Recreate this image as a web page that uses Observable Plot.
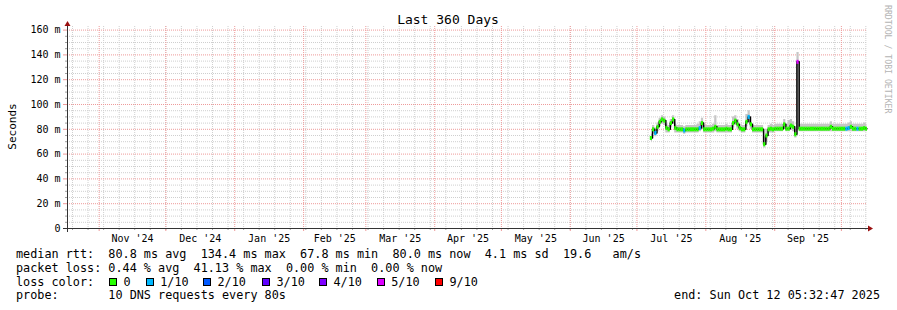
<!DOCTYPE html>
<html><head><meta charset="utf-8">
<script src="https://cdn.jsdelivr.net/npm/d3@7"></script>
<script src="https://cdn.jsdelivr.net/npm/@observablehq/plot@0.6"></script>
<style>
html,body{margin:0;padding:0;background:#fff;}
svg text{font-family:"DejaVu Sans Mono",monospace;}
</style></head><body><div id="chart"></div>
<script>
// ---------- texts ----------
const title = "Last 360 Days";
const yAxisLabel = "Seconds";
const watermark = "RRDTOOL / TOBI OETIKER";
const legendLine1 = "median rtt:  80.8 ms avg  134.4 ms max  67.8 ms min  80.0 ms now  4.1 ms sd  19.6   am/s";
const legendLine2 = "packet loss: 0.44 % avg  41.13 % max  0.00 % min  0.00 % now";
const legendLine3 = "loss color:";
const legendLine4 = "probe:       10 DNS requests every 80s";
const endText = "end: Sun Oct 12 05:32:47 2025";

// ---------- axes ----------
const viewStart = "2024-10-17T18:00:00Z";
const viewEnd = "2025-10-12T18:00:00Z";
const yMax = 162.9;
const yMajorTicks = [0, 20, 40, 60, 80, 100, 120, 140, 160];
const yMajorLabels = ["0", "20 m", "40 m", "60 m", "80 m", "100 m", "120 m", "140 m", "160 m"];
const yMinorTicks = [5,10,15,25,30,35,45,50,55,65,70,75,85,90,95,105,110,115,125,130,135,145,150,155];
const monthStarts = ["2024-11-01","2024-12-01","2025-01-01","2025-02-01","2025-03-01","2025-04-01",
  "2025-05-01","2025-06-01","2025-07-01","2025-08-01","2025-09-01","2025-10-01"];
const monthLabels = ["Nov '24","Dec '24","Jan '25","Feb '25","Mar '25","Apr '25","May '25","Jun '25","Jul '25","Aug '25","Sep '25"];

// ---------- loss colours ----------
const lossLevels = [0, 1, 2, 3, 4, 5, 9];
const lossLabels = ["0", "1/10", "2/10", "3/10", "4/10", "5/10", "9/10"];
const lossColors = ["#26ff00", "#00b8ff", "#0059ff", "#5e00ff", "#7e00ff", "#dd00ff", "#ff0000"];

// ---------- data: one value per day from 2025-07-07 to 2025-10-12 ----------
const firstDay = "2025-07-07";
const medians = [
  // Jul 7-31
  73,80,77,82,86,88,87,81,80,85,88,81,80,80,80,79,80,80,80,80,80,80,81,85,80,
  // Aug 1-31
  80,80,80,80.5,82,80,80,80,80,80.5,80,80,85,87,84,81,80,80,86,90,84,80,80,80,80,80,68,75,80,80.5,80,
  // Sep 1-30
  80.5,80.5,80.5,80.5,84,80.5,80.5,83,82,76,134.4,80.5,80.5,80.5,80.5,80.5,80.5,80.5,80.5,80.5,80.5,80.5,80.5,80.5,80.5,82,80.5,80.5,80.5,80.5,
  // Oct 1-12
  80.5,80.5,80.5,81,82,80.5,80.5,80.5,80.5,80.5,81,80.5
];
const loss = [
  0,0,1,0,0,0,0,0,0,0,0,0,0,0,0,1,0,0,0,0,0,0,1,0,0,
  0,0,0,0,0,0,0,0,0,0,0,0,0,0,0,0,0,0,0,1,0,0,0,0,0,0,0,0,0,0,0,
  0,0,0,0,0,0,0,0,0,0,5,0,0,0,0,0,0,0,0,0,0,0,0,0,0,0,0,0,0,0,
  0,0,1,1,0,0,0,1,0,0,0,0
];
const smokeLo = [
  70,76,74,78,82,84,83,77,77,81,84,77,77,77,77,76,77,77,77,77,77,77,78,80,77,
  77,77,77,77,78,77,77,77,77,77,77,77,81,83,80,78,77,77,82,85,80,77,77,77,77,77,65,70,77,77,77,
  78,78,78,78,80,78,78,79,78,73,79,78,78,78,78,78,78,78,78,78,78,78,78,78,78,78,78,78,78,78,
  78,78,78,78,78,78,78,78,78,78,78,78
];
const smokeHi = [
  76,83,81,85,89,91,90,84,83,88,91,84,83,83,83,82,83,83,83,83,83,84,86,89,83,
  83,83,83,84,91,83,83,83,83,84,83,83,90,91,88,84,83,83,92,95,90,83,83,83,83,83,74,80,83,84,83,
  84,84,84,84,88,84,87,88,86,80,142,84,84,84,84,84,84,84,84,84,84,84,84,84,84,86,84,84,84,84,
  84,84,84,85,86,84,84,84,84,84,85,84
];

// ---------- build ----------
const day0 = new Date(firstDay + "T00:00:00Z");
const rows = medians.map((m, i) => {
  const start = d3.utcDay.offset(day0, i);
  return {start, end: d3.utcDay.offset(start, 1), mid: d3.utcHour.offset(start, 12),
          median: m, loss: loss[i], lo: smokeLo[i], hi: smokeHi[i]};
});
const xStart = new Date(viewStart), xEnd = new Date(viewEnd);
const weeks = d3.utcSunday.range(xStart, xEnd);
const months = monthStarts.map(d => new Date(d + "T00:00:00Z"));
const monthMids = monthLabels.map((_, i) => new Date((+months[i] + +months[i + 1]) / 2));
const midKeys = monthMids.map(d => +d);

const gridGray = "#cfcfcf", gridRed = "#ee9a9a", tickGray = "#a0a0a0", axisColor = "#333333", arrowColor = "#9a1010";

const chart = Plot.plot({
  width: 897, height: 310,
  marginLeft: 67, marginRight: 30, marginTop: 26, marginBottom: 82,
  style: {background: "#ffffff", fontFamily: "DejaVu Sans Mono", fontSize: "10px", overflow: "visible", color: "#000"},
  x: {type: "utc", domain: [xStart, xEnd], axis: null},
  y: {domain: [0, yMax], axis: null},
  color: {type: "ordinal", domain: lossLevels, range: lossColors},
  marks: [
    Plot.ruleY(yMinorTicks, {stroke: gridGray, strokeDasharray: "1,1"}),
    Plot.ruleX(weeks, {stroke: gridGray, strokeDasharray: "1,1"}),
    Plot.ruleY(yMajorTicks.filter(v => v > 0), {stroke: gridRed, strokeDasharray: "1,1"}),
    Plot.ruleX(months, {stroke: gridRed, strokeDasharray: "1,1"}),
    Plot.areaY(rows, {x: "mid", y1: "lo", y2: "hi", curve: "step", fill: "#c6c6c6"}),
    Plot.line(rows, {x: "mid", y: "median", curve: "step", stroke: "#000", strokeWidth: 1.5}),
    Plot.ruleY(rows, {x1: "start", x2: "end", y: "median", stroke: "loss", strokeWidth: 4, clip: true}),
    Plot.axisY(yMinorTicks, {tickSize: 2, tickFormat: () => "", stroke: tickGray, label: null}),
    Plot.axisY(yMajorTicks, {tickSize: 4, tickPadding: 3, stroke: gridRed, fill: "#000", fontSize: 10, label: null,
      tickFormat: d => yMajorLabels[yMajorTicks.indexOf(d)]}),
    Plot.axisX(weeks, {tickSize: 2, tickFormat: () => "", stroke: tickGray, label: null}),
    Plot.axisX(months, {tickSize: 3, tickFormat: () => "", stroke: gridRed, label: null}),
    Plot.axisX(monthMids, {tickSize: 0, tickPadding: 6.5, fill: "#000", fontSize: 10, label: null,
      tickFormat: d => monthLabels[midKeys.indexOf(+d)]}),
    Plot.ruleY([0], {stroke: axisColor, insetLeft: -4, insetRight: -4}),
    Plot.ruleX([xStart], {stroke: axisColor, insetTop: -4, insetBottom: -4})
  ]
});
document.getElementById("chart").appendChild(chart);

// ---------- decorations ----------
const sx = chart.scale("x"), sy = chart.scale("y");
const pLeft = sx.apply(xStart) + 0.5, pRight = sx.apply(xEnd);
const pTop = sy.apply(yMax), pBottom = sy.apply(0) + 0.5;
const svg = d3.select(chart);
const g = svg.append("g").attr("font-family", "DejaVu Sans Mono").attr("fill", "#000").attr("text-anchor", "start");

g.append("path").attr("fill", arrowColor)
  .attr("d", `M${pLeft - 3},${pTop}L${pLeft + 3},${pTop}L${pLeft},${pTop - 5}Z`);
g.append("path").attr("fill", arrowColor)
  .attr("d", `M${pRight + 1},${pBottom - 3}L${pRight + 1},${pBottom + 3}L${pRight + 6},${pBottom}Z`);

g.append("text").attr("x", 448).attr("y", 24).attr("text-anchor", "middle").attr("font-size", 13).text(title);
g.append("text").attr("transform", "translate(16,126.5) rotate(-90)").attr("text-anchor", "middle")
  .attr("font-size", 11).text(yAxisLabel);
g.append("text").attr("transform", "translate(884.5,5) rotate(90)").attr("font-size", 8.2)
  .attr("text-anchor", "start").attr("fill", "#b4b4b4").text(watermark);

const lf = 11.8;
const base = [258, 271.8, 285.6, 299.4];
[legendLine1, legendLine2, legendLine3, legendLine4].forEach((t, i) => {
  g.append("text").attr("x", 16).attr("y", base[i]).attr("font-size", lf).attr("text-anchor", "start")
    .style("white-space", "pre").text(t);
});
const squareX = [109, 145.7, 203, 262, 319, 376.7, 435];
lossLabels.forEach((lab, i) => {
  g.append("rect").attr("x", Math.round(squareX[i]) + 0.5).attr("y", 278.5).attr("width", 7).attr("height", 7)
    .attr("fill", lossColors[i]).attr("stroke", "#000").attr("stroke-width", 1);
  g.append("text").attr("x", squareX[i] + 14.5).attr("y", base[2]).attr("font-size", lf).attr("text-anchor", "start").text(lab);
});
g.append("text").attr("x", 880).attr("y", base[3]).attr("text-anchor", "end").attr("font-size", lf).text(endText);
</script></body></html>
